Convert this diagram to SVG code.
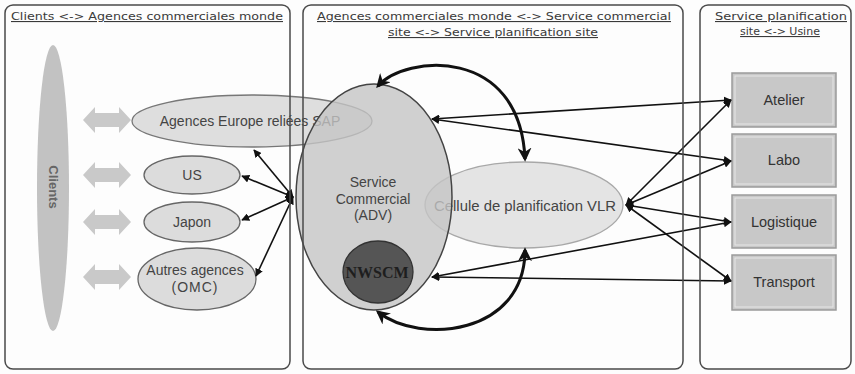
<svg xmlns="http://www.w3.org/2000/svg" width="855" height="374" viewBox="0 0 855 374">
<style>
.frame{fill:none;stroke:#4a4a4a;stroke-width:1.5}
.title{font-family:"DejaVu Sans",Verdana,sans-serif;font-size:11px;fill:#3a3a3a;text-decoration:underline;text-anchor:middle}
.lbl{font-family:"Liberation Sans",Arial,sans-serif;font-size:14px;fill:#444;text-anchor:middle}
.agency{fill:#dcdcdc;stroke:#666;stroke-width:1.3}
.box{fill:#c8c8c8;stroke:#9a9a9a;stroke-width:1.5}
.boxin{fill:none;stroke:#e6e6e6;stroke-width:1}
.dbl{fill:#c9c9c9}
.ln{fill:none;stroke:#111;stroke-width:1.6;marker-start:url(#ah);marker-end:url(#ah)}
.cv{fill:none;stroke:#111;stroke-width:3;marker-start:url(#ahb);marker-end:url(#ahb)}
</style>
<defs>
<marker id="ah" viewBox="0 0 10 10" refX="9" refY="5" markerWidth="8" markerHeight="8" markerUnits="userSpaceOnUse" orient="auto-start-reverse">
<path d="M0,0 L10,5 L0,10 Z" fill="#111"/>
</marker>
<marker id="ahb" viewBox="0 0 10 10" refX="8" refY="5" markerWidth="14" markerHeight="14" markerUnits="userSpaceOnUse" orient="auto-start-reverse">
<path d="M0,0 L10,5 L0,10 L3,5 Z" fill="#111"/>
</marker>
<path id="dblarrow" d="M83,0 L95,-13 L95,-7 L119,-7 L119,-13 L131,0 L119,13 L119,7 L95,7 L95,13 Z"/>
</defs>
<rect x="0" y="0" width="855" height="374" fill="#fdfdfd"/>

<g id="clients">
<ellipse cx="53" cy="188" rx="16" ry="143" fill="#c2c2c2"/>
<text x="53" y="187" transform="rotate(90 53 187)" style="font-family:'Liberation Sans',Arial,sans-serif;font-size:13px;font-weight:bold;fill:#666;text-anchor:middle;dominant-baseline:central">Clients</text>
</g>

<g id="double-arrows" class="dbl">
<use href="#dblarrow" transform="translate(0,120)"/>
<use href="#dblarrow" transform="translate(0,175)"/>
<use href="#dblarrow" transform="translate(0,222)"/>
<use href="#dblarrow" transform="translate(0,277)"/>
</g>

<g id="europe">
<ellipse cx="252" cy="121" rx="120" ry="26" fill="#dedede" stroke="#777" stroke-width="1.3"/>
<text class="lbl" x="250" y="126" fill="#555">Agences Europe reliées SAP</text>
</g>
<g id="us">
<ellipse class="agency" cx="192" cy="175" rx="48" ry="19"/>
<text class="lbl" x="192" y="180">US</text>
</g>
<g id="japon">
<ellipse class="agency" cx="192" cy="222" rx="48" ry="20"/>
<text class="lbl" x="192" y="227">Japon</text>
</g>
<g id="autres">
<ellipse class="agency" cx="197" cy="279" rx="59" ry="31"/>
<text class="lbl" x="195" y="275">Autres agences</text>
<text class="lbl" x="195" y="292" letter-spacing="1">(OMC)</text>
</g>

<g id="cellule">
<ellipse cx="524" cy="205" rx="99" ry="43" fill="#e4e4e4" stroke="#a8a8a8" stroke-width="1.3"/>
<text class="lbl" x="525" y="211" textLength="182" lengthAdjust="spacingAndGlyphs">Cellule de planification VLR</text>
</g>

<g id="service-commercial">
<ellipse cx="374" cy="197" rx="78" ry="113" fill="#c4c4c4" fill-opacity="0.8" stroke="#444" stroke-width="1.5"/>
<text class="lbl" x="373" y="187" fill="#333">Service</text>
<text class="lbl" x="373" y="204" fill="#333">Commercial</text>
<text class="lbl" x="373" y="220" fill="#333">(ADV)</text>
</g>

<g id="nwscm">
<ellipse cx="378" cy="272" rx="35" ry="31" fill="#555" stroke="#333" stroke-width="1.3"/>
<text x="377" y="278" style="font-family:'Liberation Serif','Times New Roman',serif;font-size:16px;font-weight:bold;fill:#1e1e1e;text-anchor:middle">NWSCM</text>
</g>

<g id="atelier">
<rect class="box" x="732" y="73" width="104" height="54"/>
<rect class="boxin" x="735" y="76" width="98" height="48"/>
<text class="lbl" x="784" y="105" style="font-size:14.5px;fill:#333">Atelier</text>
</g>
<g id="labo">
<rect class="box" x="732" y="134" width="104" height="53"/>
<rect class="boxin" x="735" y="137" width="98" height="47"/>
<text class="lbl" x="784" y="165" style="font-size:14.5px;fill:#333">Labo</text>
</g>
<g id="logistique">
<rect class="box" x="732" y="195" width="104" height="53"/>
<rect class="boxin" x="735" y="198" width="98" height="47"/>
<text class="lbl" x="784" y="227" style="font-size:14.5px;fill:#333">Logistique</text>
</g>
<g id="transport">
<rect class="box" x="732" y="255" width="104" height="55"/>
<rect class="boxin" x="735" y="258" width="98" height="49"/>
<text class="lbl" x="784" y="287" style="font-size:14.5px;fill:#333">Transport</text>
</g>

<g id="connectors">
<line class="ln" x1="293" y1="197" x2="254" y2="150"/>
<line class="ln" x1="293" y1="197" x2="242" y2="176"/>
<line class="ln" x1="293" y1="197" x2="242" y2="220"/>
<line class="ln" x1="293" y1="197" x2="256" y2="276"/>
<line class="ln" x1="432" y1="119" x2="731" y2="100"/>
<line class="ln" x1="432" y1="119" x2="731" y2="161"/>
<line class="ln" x1="626" y1="205" x2="731" y2="100"/>
<line class="ln" x1="626" y1="205" x2="731" y2="161"/>
<line class="ln" x1="626" y1="205" x2="731" y2="222"/>
<line class="ln" x1="626" y1="205" x2="731" y2="281"/>
<line class="ln" x1="432" y1="277" x2="731" y2="222"/>
<line class="ln" x1="432" y1="277" x2="731" y2="281"/>
<path class="cv" d="M378,86 C405,55 520,45 525,159"/>
<path class="cv" d="M525,250 C525,335 420,345 378,312"/>
</g>

<g id="panels">
<rect class="frame" x="5" y="5" width="285" height="364" rx="8"/>
<rect class="frame" x="303" y="5" width="380" height="364" rx="8"/>
<rect class="frame" x="700" y="5" width="151" height="364" rx="8"/>
<text class="title" x="147" y="20" textLength="272" lengthAdjust="spacingAndGlyphs">Clients &lt;-&gt; Agences commerciales monde</text>
<text class="title" x="494" y="20" textLength="354" lengthAdjust="spacingAndGlyphs">Agences commerciales monde &lt;-&gt; Service commercial</text>
<text class="title" x="493" y="36" textLength="210" lengthAdjust="spacingAndGlyphs">site &lt;-&gt; Service planification site</text>
<text class="title" x="781" y="20" textLength="132" lengthAdjust="spacingAndGlyphs">Service planification</text>
<text class="title" x="780" y="35">site &lt;-&gt; Usine</text>
</g>
</svg>
